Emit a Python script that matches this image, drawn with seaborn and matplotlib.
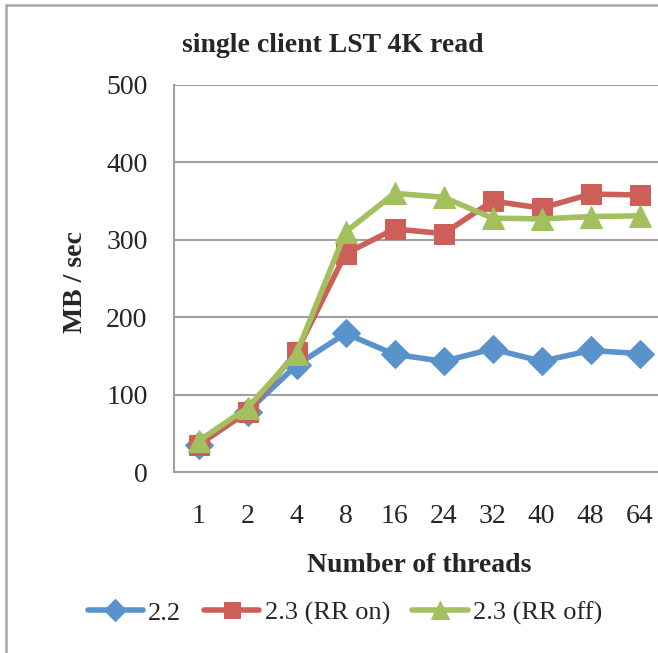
import numpy as np
import pandas as pd
import matplotlib
matplotlib.use("Agg")
import matplotlib.pyplot as plt
import seaborn as sns
from matplotlib.patches import Rectangle

threads = ["1", "2", "4", "8", "16", "24", "32", "40", "48", "64"]
v22 = [35, 78, 138, 179, 152, 143, 159, 143, 157, 153]
v23_on = [35, 78, 155, 282, 314, 308, 350, 341, 359, 358]
v23_off = [40, 83, 153, 310, 360, 355, 328, 327, 330, 331]

series = ["2.2", "2.3 (RR on)", "2.3 (RR off)"]
colors = ["#5A92CC", "#CD5F59", "#A2C15E"]
markers = ["D", "s", "^"]
msizes = [14, 15, 16]

df = pd.DataFrame({
    "pos": list(range(len(threads))) * 3,
    "value": v22 + v23_on + v23_off,
    "series": [s for s in series for _ in threads],
})

sns.set_style("white")
plt.rcParams["font.family"] = ["Liberation Serif", "DejaVu Serif"]

fig = plt.figure(figsize=(6.58, 6.53), dpi=100)
ax = fig.add_axes([174 / 658, 1 - 472 / 653, 490 / 658, (472 - 85) / 653])

for name, c, m, ms in zip(series, colors, markers, msizes):
    sub = df[df["series"] == name]
    sns.lineplot(data=sub, x="pos", y="value", ax=ax, color=c, marker=m,
                 markersize=ms, markeredgecolor=c, linewidth=4, label=name,
                 clip_on=False)

grid_c = "#a0a0a0"
ax.set_ylim(0, 500)
ax.set_xlim(-0.5, 9.5)
ax.set_yticks(range(0, 501, 100))
ax.set_yticklabels([str(v) for v in range(0, 501, 100)], fontsize=20)
ax.set_xticks(range(len(threads)))
ax.set_xticklabels(threads, fontsize=20)
ax.set_xticks(np.arange(-0.5, 10, 1), minor=True)
ax.tick_params(axis="x", which="major", length=0, pad=23)
ax.tick_params(axis="x", which="minor", length=6, width=1.5, color=grid_c, direction="out")
ax.tick_params(axis="y", length=6, width=1.5, color=grid_c, direction="out", pad=13)
ax.yaxis.grid(True, color=grid_c, linewidth=1.5)
ax.set_axisbelow(True)
for side in ["top", "right"]:
    ax.spines[side].set_visible(False)
for side in ["left", "bottom"]:
    ax.spines[side].set_color(grid_c)
    ax.spines[side].set_linewidth(1.5)

ax.set_xlabel("")
ax.set_ylabel("")
fig.text(75 / 658, 1 - 282 / 653, "MB / sec", rotation=90, fontsize=20,
         fontweight="bold", ha="center", va="center")
fig.text(419 / 658, 1 - 566 / 653, "Number of threads", fontsize=20,
         fontweight="bold", ha="center", va="center")
fig.text(333 / 658, 1 - 45 / 653, "single client LST 4K read", fontsize=20,
         fontweight="bold", ha="center", va="center")

leg = ax.legend(loc="center", bbox_to_anchor=(345 / 658, 1 - 613 / 653),
                bbox_transform=fig.transFigure, ncol=3, frameon=False,
                fontsize=19, handlelength=2.1, handletextpad=0.2,
                columnspacing=0.85, borderaxespad=0)
for h, ms in zip(leg.legend_handles, msizes):
    h.set_markersize(ms * 0.8)

fig.patches.append(Rectangle((6 / 658, -0.1), 2, 1.1 - 5 / 653, transform=fig.transFigure,
                             fill=False, edgecolor="#a6a6a6", linewidth=1.8))

fig.savefig("out.png", dpi=100)
